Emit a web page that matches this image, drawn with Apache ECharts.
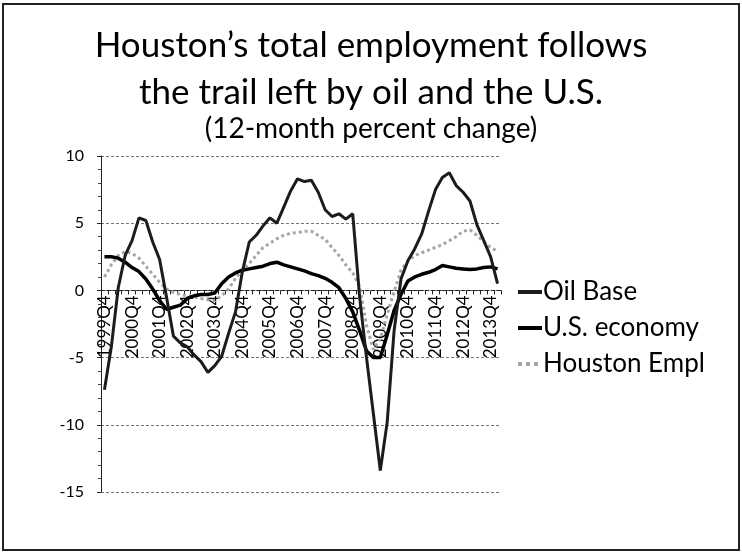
<!DOCTYPE html>
<html>
<head>
<meta charset="utf-8">
<script src="https://cdn.jsdelivr.net/npm/echarts@6/dist/echarts.min.js"></script>
<style>
  html, body { margin: 0; padding: 0; background: #fff; }
  #main { width: 742px; height: 552px; }
</style>
</head>
<body>
<div id="main"></div>
<script>
// quarters shown on the x axis, 1999Q4 .. 2014Q1
const quarters = [
  '1999Q4',
  '2000Q1', '2000Q2', '2000Q3', '2000Q4',
  '2001Q1', '2001Q2', '2001Q3', '2001Q4',
  '2002Q1', '2002Q2', '2002Q3', '2002Q4',
  '2003Q1', '2003Q2', '2003Q3', '2003Q4',
  '2004Q1', '2004Q2', '2004Q3', '2004Q4',
  '2005Q1', '2005Q2', '2005Q3', '2005Q4',
  '2006Q1', '2006Q2', '2006Q3', '2006Q4',
  '2007Q1', '2007Q2', '2007Q3', '2007Q4',
  '2008Q1', '2008Q2', '2008Q3', '2008Q4',
  '2009Q1', '2009Q2', '2009Q3', '2009Q4',
  '2010Q1', '2010Q2', '2010Q3', '2010Q4',
  '2011Q1', '2011Q2', '2011Q3', '2011Q4',
  '2012Q1', '2012Q2', '2012Q3', '2012Q4',
  '2013Q1', '2013Q2', '2013Q3', '2013Q4',
  '2014Q1'
];

const oilBase = [
  -7.4,
  -4.2, 0.2, 2.6, 3.7,
  5.4, 5.2, 3.6, 2.3,
  -0.5, -3.4, -3.9, -4.2,
  -4.8, -5.3, -6.1, -5.6,
  -4.9, -3.2, -1.6, 1.4,
  3.6, 4.1, 4.8, 5.4,
  5.0, 6.2, 7.4, 8.3,
  8.1, 8.2, 7.3, 6.0,
  5.5, 5.7, 5.3, 5.7,
  -0.5, -5.0, -9.2, -13.4,
  -9.8, -3.0, 0.85, 2.2,
  3.1, 4.2, 5.9, 7.5,
  8.4, 8.75, 7.8, 7.3,
  6.65, 4.9, 3.7, 2.5,
  0.5
];

const usEconomy = [
  2.5,
  2.5, 2.4, 2.1, 1.7,
  1.4, 0.85, 0.1, -0.75,
  -1.4, -1.25, -1.1, -0.6,
  -0.4, -0.3, -0.3, -0.2,
  0.5, 1.0, 1.3, 1.5,
  1.6, 1.7, 1.8, 2.0,
  2.1, 1.9, 1.75, 1.6,
  1.45, 1.25, 1.1, 0.9,
  0.6, 0.2, -0.6, -1.6,
  -3.0, -4.5, -5.0, -5.0,
  -3.3, -1.5, -0.3, 0.7,
  1.0, 1.2, 1.35, 1.55,
  1.85, 1.75, 1.65, 1.6,
  1.55, 1.6, 1.7, 1.75,
  1.6
];

const houstonEmpl = [
  1.0,
  1.9, 2.6, 2.9, 2.75,
  2.4, 1.8, 1.2, 0.6,
  0.1, -0.15, -0.3, -0.4,
  -0.5, -0.6, -0.7, -0.75,
  -0.4, 0.1, 0.9, 1.5,
  2.0, 2.6, 3.2, 3.5,
  3.85, 4.1, 4.25, 4.3,
  4.4, 4.4, 4.1, 3.8,
  3.2, 2.6, 1.9, 1.3,
  0.3, -2.6, -4.4, -3.6,
  -1.8, -0.1, 1.5, 2.2,
  2.6, 2.8, 3.0, 3.2,
  3.4, 3.7, 4.0, 4.4,
  4.5, 4.1, 3.6, 3.2,
  2.9
];

const yTicks = { min: -15, max: 10, step: 5 };

const font = 'Lato, "Open Sans", sans-serif';
const grid = { left: 101, right: 241, top: 156, bottom: 60 };
// the category axis sits on the zero line, as in the Excel original
const plotHeight = 552 - grid.top - grid.bottom;
const zeroOffset = -plotHeight * (0 - yTicks.min) / (yTicks.max - yTicks.min);

const chart = echarts.init(document.getElementById('main'));

chart.setOption({
  backgroundColor: '#fff',
  animation: false,
  textStyle: { fontFamily: font, color: '#000' },
  title: [
    {
      text: 'Houston\u2019s total employment follows\nthe trail left by oil and the U.S.',
      left: 'center',
      top: 17,
      textStyle: { fontFamily: font, fontSize: 35, fontWeight: 'normal', lineHeight: 47, color: '#000' }
    },
    {
      text: '(12-month percent change)',
      left: 'center',
      top: 110,
      textStyle: { fontFamily: font, fontSize: 28, fontWeight: 'normal', color: '#000' }
    }
  ],
  graphic: [
    {
      type: 'rect',
      shape: { x: 3, y: 4, width: 736, height: 546 },
      style: { fill: 'none', stroke: '#222', lineWidth: 2 },
      silent: true
    }
  ],
  legend: {
    orient: 'vertical',
    left: 511,
    top: 274,
    itemWidth: 24,
    itemHeight: 14,
    itemGap: 10,
    itemStyle: { opacity: 0 },
    lineStyle: { width: 4 },
    textStyle: { fontFamily: font, fontSize: 26, color: '#000', padding: [0, 0, 0, -4] },
    data: ['Oil Base', 'U.S. economy', 'Houston Empl']
  },
  grid: { left: grid.left, right: grid.right, top: grid.top, bottom: grid.bottom, containLabel: false },
  xAxis: {
    type: 'category',
    data: quarters,
    boundaryGap: true,
    offset: zeroOffset,
    axisLine: { onZero: false, lineStyle: { color: '#222', width: 1, type: [4, 2] } },
    axisTick: { show: true, interval: 0, length: 4, lineStyle: { color: '#222' } },
    axisLabel: {
      interval: 3,
      rotate: 90,
      margin: 5,
      fontFamily: font,
      fontSize: 17,
      color: '#000'
    },
    splitLine: { show: false }
  },
  yAxis: {
    type: 'value',
    min: yTicks.min,
    max: yTicks.max,
    interval: yTicks.step,
    axisLine: { show: true, lineStyle: { color: '#222', width: 1 } },
    axisTick: { show: true, length: 4, lineStyle: { color: '#222' } },
    minorTick: { show: true, splitNumber: 5, length: 3, lineStyle: { color: '#444' } },
    axisLabel: { margin: 17, fontFamily: font, fontSize: 16, color: '#000' },
    splitLine: { show: true, lineStyle: { color: '#777', width: 1, type: [3, 2] } }
  },
  series: [
    {
      name: 'Oil Base',
      type: 'line',
      data: oilBase,
      symbol: 'none',
      z: 4,
      lineStyle: { color: '#1c1c1c', width: 3 },
      itemStyle: { color: '#1c1c1c' }
    },
    {
      name: 'U.S. economy',
      type: 'line',
      data: usEconomy,
      symbol: 'none',
      z: 3,
      lineStyle: { color: '#000', width: 3.5 },
      itemStyle: { color: '#000' }
    },
    {
      name: 'Houston Empl',
      type: 'line',
      data: houstonEmpl,
      symbol: 'none',
      z: 2,
      lineStyle: { color: '#a6a6a6', width: 3, type: 'dotted' },
      itemStyle: { color: '#a6a6a6' }
    }
  ]
});
</script>
</body>
</html>
